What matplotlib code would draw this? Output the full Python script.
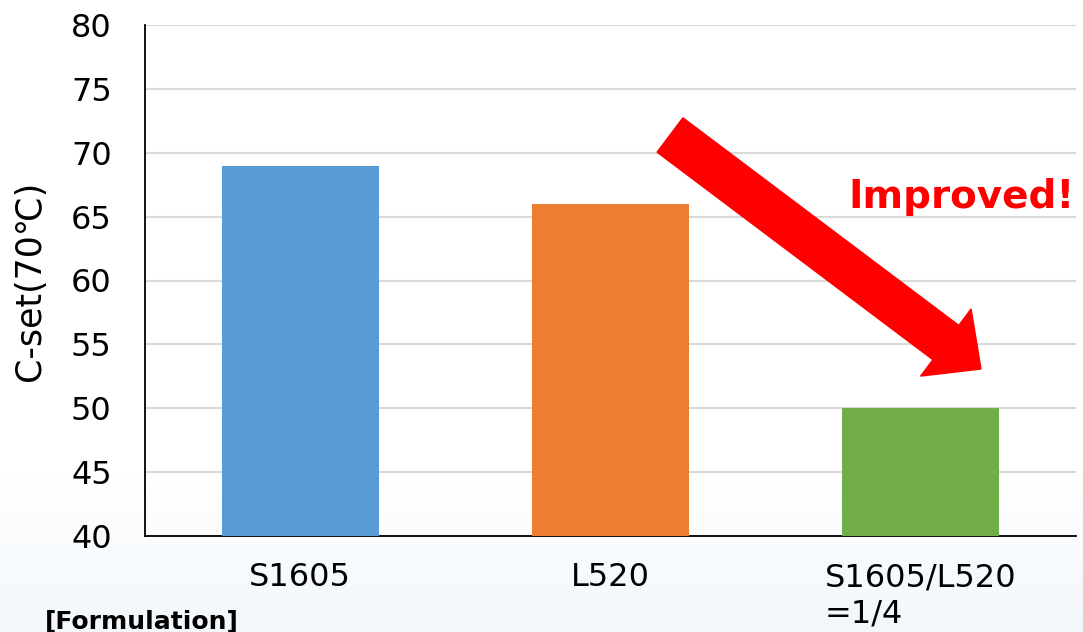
import matplotlib.pyplot as plt
import numpy as np
from matplotlib.patches import FancyArrow
from matplotlib.transforms import IdentityTransform

# data
categories = ["S1605", "L520", "S1605/L520\n=1/4"]
cset_values = [69, 66, 50]
bar_colors = ["#5B9BD5", "#ED7D31", "#70AD47"]
y_ticks = [40, 45, 50, 55, 60, 65, 70, 75, 80]

W, H = 1083, 632
fig = plt.figure(figsize=(W / 100, H / 100), dpi=100)

# faint blue wash at the bottom of the slide
bg = fig.add_axes([0, 0, 1, 0.25], zorder=-5)
grad = np.linspace(0, 1, 200).reshape(-1, 1)
bg.imshow(grad, aspect="auto", cmap=plt.matplotlib.colors.LinearSegmentedColormap.from_list(
    "wash", ["#f2f7fc", "#ffffff"]), extent=[0, 1, 0, 1], origin="lower")
bg.axis("off")

ax = fig.add_axes([145 / W, 1 - 536 / H, (1076 - 145) / W, (536 - 25) / H])
ax.patch.set_alpha(0)

x = np.arange(len(categories))
ax.bar(x, cset_values, width=0.505, color=bar_colors, zorder=3)

ax.set_xlim(-0.5, 2.5)
ax.set_ylim(40, 80)
ax.set_yticks(y_ticks)
ax.set_xticks(x)
ax.set_xticklabels(categories, multialignment="left")
ax.tick_params(axis="both", length=0, labelsize=23)
ax.tick_params(axis="x", pad=19)
ax.tick_params(axis="y", pad=24)

ax.grid(axis="y", color="#d9d9d9", linewidth=1.5)
ax.set_axisbelow(True)
for s in ["top", "right"]:
    ax.spines[s].set_visible(False)
ax.spines["left"].set_color("black")
ax.spines["bottom"].set_color("black")
ax.spines["left"].set_linewidth(1.3)
ax.spines["bottom"].set_linewidth(1.3)

ax.set_ylabel("C-set(70℃)", fontsize=25, labelpad=17)

# red arrow (pixel coordinates, origin bottom-left)
x0, y0 = 670, H - 135
x1, y1 = 981, H - 369
arrow = FancyArrow(x0, y0, x1 - x0, y1 - y0, width=43, head_width=84,
                   head_length=44, length_includes_head=True,
                   color="#FF0000", transform=IdentityTransform())
fig.patches.append(arrow)

fig.text(848 / W, 1 - 208 / H, "Improved!", color="#FF0000", fontsize=28,
         fontweight="bold", ha="left", va="baseline")

fig.text(45 / W, 1 - 610 / H, "[Formulation]", fontsize=18, fontweight="bold",
         ha="left", va="top")

fig.savefig("out.png", dpi=100)
